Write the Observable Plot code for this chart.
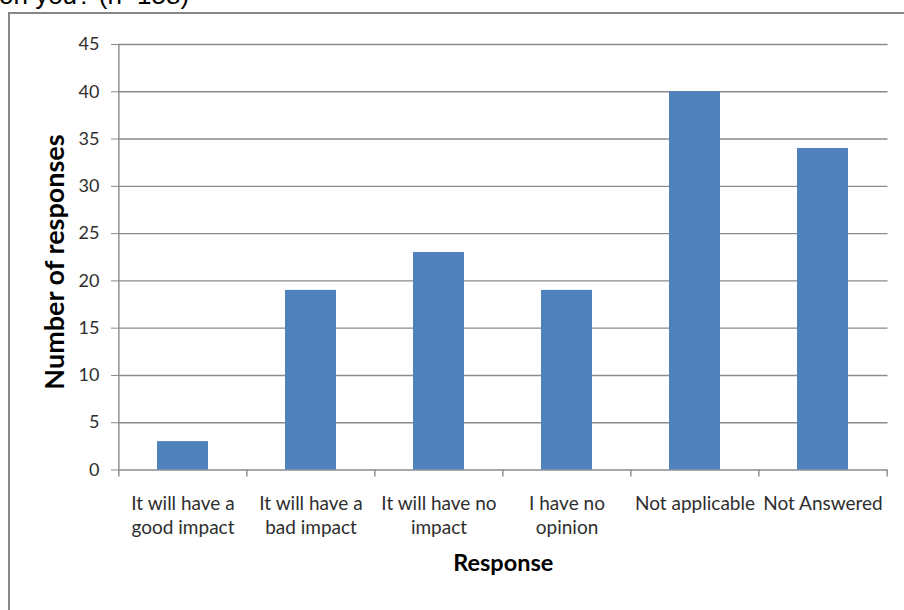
<!DOCTYPE html>
<html>
<head>
<meta charset="utf-8">
<script src="https://cdn.jsdelivr.net/npm/d3@7"></script>
<script src="https://cdn.jsdelivr.net/npm/@observablehq/plot@0.6"></script>
<style>
  html, body { margin: 0; padding: 0; background: #fff; }
  #wrap { position: relative; width: 904px; height: 610px; overflow: hidden; }
  #title { position: absolute; left: -1px; top: -20px; font-family: "Liberation Sans", Arial, sans-serif; font-size: 26px; line-height: 30px; color: #000; white-space: nowrap; }
  #frame { position: absolute; left: 8px; top: 12px; right: -10px; bottom: -10px; border-top: 2px solid #868686; border-left: 2px solid #868686; }
  #chart { position: absolute; left: 0; top: 0; }
</style>
</head>
<body>
<div id="wrap">
  <div id="title">on you? (n=158)</div>
  <div id="frame"></div>
  <div id="chart"></div>
</div>
<script>
// Survey responses per answer option
const categories = [
  "It will have a good impact",
  "It will have a bad impact",
  "It will have no impact",
  "I have no opinion",
  "Not applicable",
  "Not Answered"
];
const counts = [3, 19, 23, 19, 40, 34];
const tickLabels = [
  "It will have a\ngood impact",
  "It will have a\nbad impact",
  "It will have no\nimpact",
  "I have no\nopinion",
  "Not applicable",
  "Not Answered"
];
const yTicks = [0, 5, 10, 15, 20, 25, 30, 35, 40, 45];

const data = categories.map((c, i) => ({category: c, count: counts[i]}));

const width = 904, height = 610;
const marginLeft = 118, marginRight = 16.5, marginTop = 44, marginBottom = 140.5;
const step = (width - marginLeft - marginRight) / categories.length;
const lineColor = "#8a8a8a";
const textColor = "#2e2e2e";

const chart = Plot.plot({
  width, height, marginLeft, marginRight, marginTop, marginBottom,
  style: {fontFamily: "Lato, 'Noto Sans', sans-serif", background: "none", color: textColor, overflow: "visible"},
  x: {domain: categories, paddingInner: 0.6, paddingOuter: 0.3},
  y: {domain: [0, 45]},
  marks: [
    // horizontal gridlines, including the baseline at zero
    Plot.ruleY(yTicks, {stroke: lineColor, strokeWidth: 1.4}),
    Plot.barY(data, {x: "category", y: "count", fill: "#4F81BD"}),
    // vertical axis line
    Plot.ruleX([categories[0]], {dx: -step / 2, y1: 0, y2: 45, stroke: lineColor, strokeWidth: 1.4}),
    // category boundary ticks below the baseline
    Plot.ruleX(categories, {x: d => d, dx: -step / 2, y1: 0, y2: 0, insetBottom: -7, stroke: lineColor, strokeWidth: 1.4}),
    Plot.ruleX([categories[categories.length - 1]], {dx: step / 2, y1: 0, y2: 0, insetBottom: -7, stroke: lineColor, strokeWidth: 1.4}),
    Plot.axisY({ticks: yTicks, tickSize: 7, tickPadding: 12, fontSize: 18, stroke: lineColor, fill: textColor, label: null}),
    Plot.axisX({tickSize: 0, tickPadding: 22, fontSize: 19, lineHeight: 1.3, fill: textColor, label: null,
      tickFormat: d => tickLabels[categories.indexOf(d)]}),
    Plot.text(["Number of responses"], {frameAnchor: "left", textAnchor: "middle", rotate: -90, dx: -63, dy: 4.75,
      fontSize: 27, fontWeight: "bold", fill: "#000"}),
    Plot.text(["Response"], {frameAnchor: "bottom", dy: 101, fontSize: 23.5, fontWeight: "bold", fill: "#000"})
  ]
});

document.getElementById("chart").appendChild(chart);
</script>
</body>
</html>
